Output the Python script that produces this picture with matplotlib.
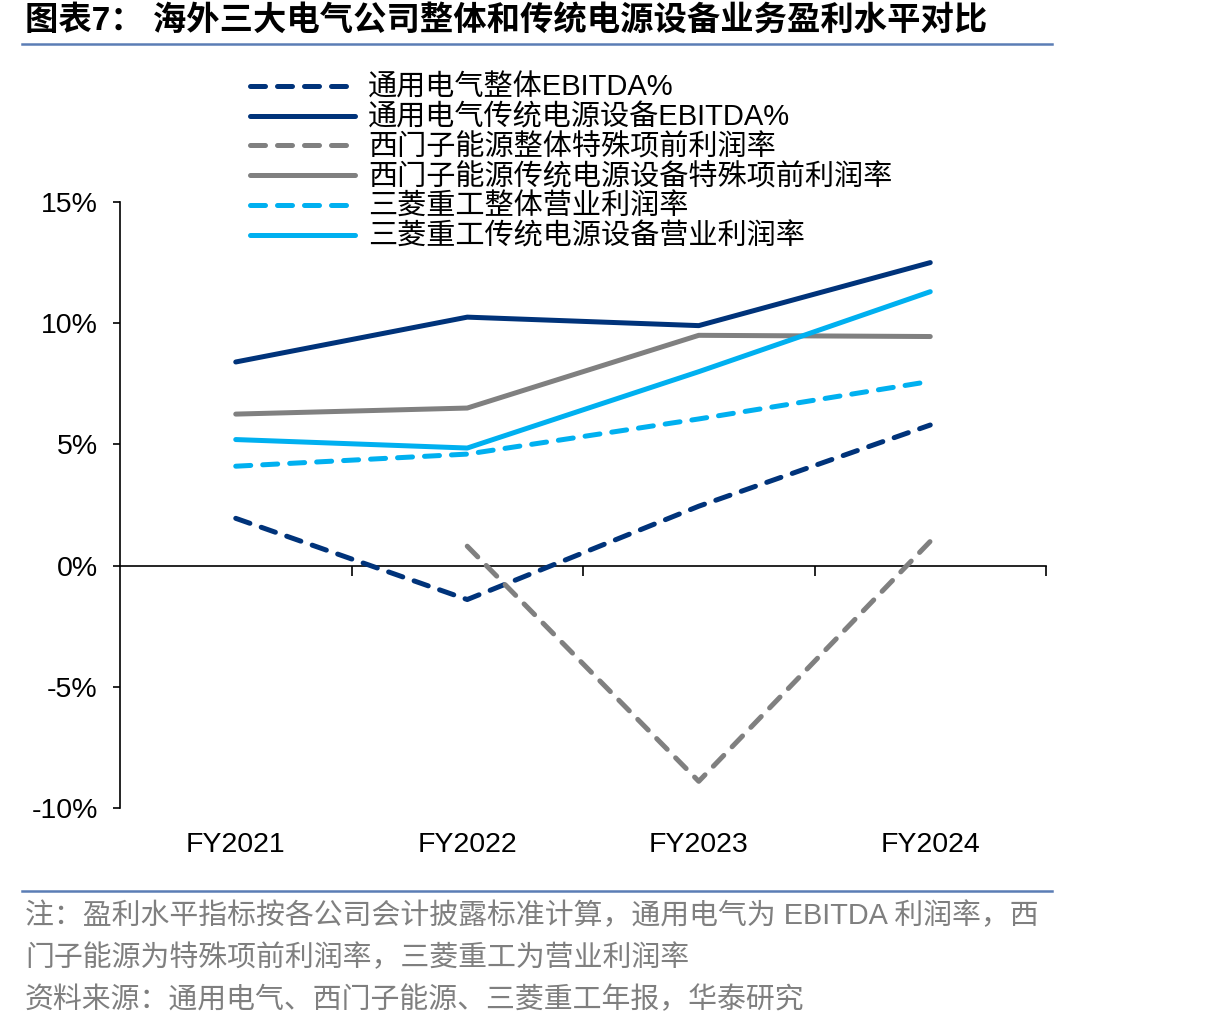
import matplotlib
matplotlib.use('Agg')
import matplotlib.pyplot as plt
from matplotlib.lines import Line2D
from matplotlib.ticker import FuncFormatter, FixedLocator
import numpy as np

plt.rcParams['font.family'] = ['Liberation Sans', 'Noto Sans CJK SC', 'DejaVu Sans']
MIX = ['Liberation Sans', 'Noto Sans CJK SC', 'DejaVu Sans']

years = ['FY2021', 'FY2022', 'FY2023', 'FY2024']
ge_total = [1.95, -1.4, 2.45, 5.8]
ge_power = [8.4, 10.25, 9.9, 12.5]
se_total = [np.nan, 0.8, -8.9, 1.0]
se_power = [6.25, 6.5, 9.5, 9.45]
mhi_total = [4.1, 4.6, 6.05, 7.6]
mhi_power = [5.2, 4.85, 8.0, 11.3]

labels = ['通用电气整体EBITDA%', '通用电气传统电源设备EBITDA%',
          '西门子能源整体特殊项前利润率', '西门子能源传统电源设备特殊项前利润率',
          '三菱重工整体营业利润率', '三菱重工传统电源设备营业利润率']

navy = '#00337A'
gray = '#808080'
sky = '#00B0F0'

fig = plt.figure(figsize=(12.06, 10.30), dpi=100)
ax = fig.add_axes([120 / 1206, 1 - 808 / 1030, (1046 - 120) / 1206, (808 - 202) / 1030])

x = np.arange(len(years))
dash = (3.0, 2.4)
series = [
    (ge_total, navy, True), (ge_power, navy, False),
    (se_total, gray, True), (se_power, gray, False),
    (mhi_total, sky, True), (mhi_power, sky, False),
]
handles = []
for (vals, col, dashed), lab in zip(series, labels):
    ln, = ax.plot(x, vals, color=col, lw=3.6, solid_capstyle='round',
                  dash_capstyle='round', label=lab)
    if dashed:
        ln.set_dashes(dash)
    handles.append(ln)

ax.set_xlim(-0.5, 3.5)
ax.set_ylim(-10, 15)
ax.set_yticks([-10, -5, 0, 5, 10, 15])
ax.yaxis.set_major_formatter(FuncFormatter(lambda v, p: f'{v:.0f}%'))
ax.tick_params(axis='y', direction='out', length=5, width=1.2, labelsize=20.5, pad=11)

ax.set_xticks(x)
ax.set_xticklabels(years)
ax.tick_params(axis='x', length=0, labelsize=20.5, pad=17)

for s in ['top', 'right', 'bottom']:
    ax.spines[s].set_visible(False)
ax.spines['left'].set_linewidth(1.2)

# zero line with category boundary ticks
sec = ax.secondary_xaxis(0.4)
sec.spines['bottom'].set_linewidth(1.2)
sec.xaxis.set_major_locator(FixedLocator([0.5, 1.5, 2.5, 3.5]))
sec.tick_params(axis='x', direction='out', length=7, width=1.2, labelbottom=False)

leg = fig.legend(handles=handles, loc='upper left',
                 bbox_to_anchor=(250 / 1206, 1 - 74 / 1030), frameon=False,
                 prop={'family': MIX, 'size': 21}, handlelength=3.6,
                 handletextpad=0.45, labelspacing=0.06, borderpad=0, borderaxespad=0)

# title and frame lines
fig.text(25 / 1206, 1 - 22 / 1030, '图表7： 海外三大电气公司整体和传统电源设备业务盈利水平对比',
         fontsize=24, fontweight='bold', family=MIX, va='center', ha='left')
fig.add_artist(Line2D([22 / 1206, 1052 / 1206], [1 - 44 / 1030] * 2, color='#5B7DB5', lw=1.8))
fig.add_artist(Line2D([22 / 1206, 1052 / 1206], [1 - 891 / 1030] * 2, color='#5B7DB5', lw=1.8))

notes = ['注：盈利水平指标按各公司会计披露标准计算，通用电气为 EBITDA 利润率，西',
         '门子能源为特殊项前利润率，三菱重工为营业利润率',
         '资料来源：通用电气、西门子能源、三菱重工年报，华泰研究']
for i, t in enumerate(notes):
    fig.text(25 / 1206, 1 - (916 + 42 * i) / 1030, t, fontsize=20.8, color='#7F7F7F',
             family=MIX, va='center', ha='left')

fig.savefig('out.png', dpi=100)
